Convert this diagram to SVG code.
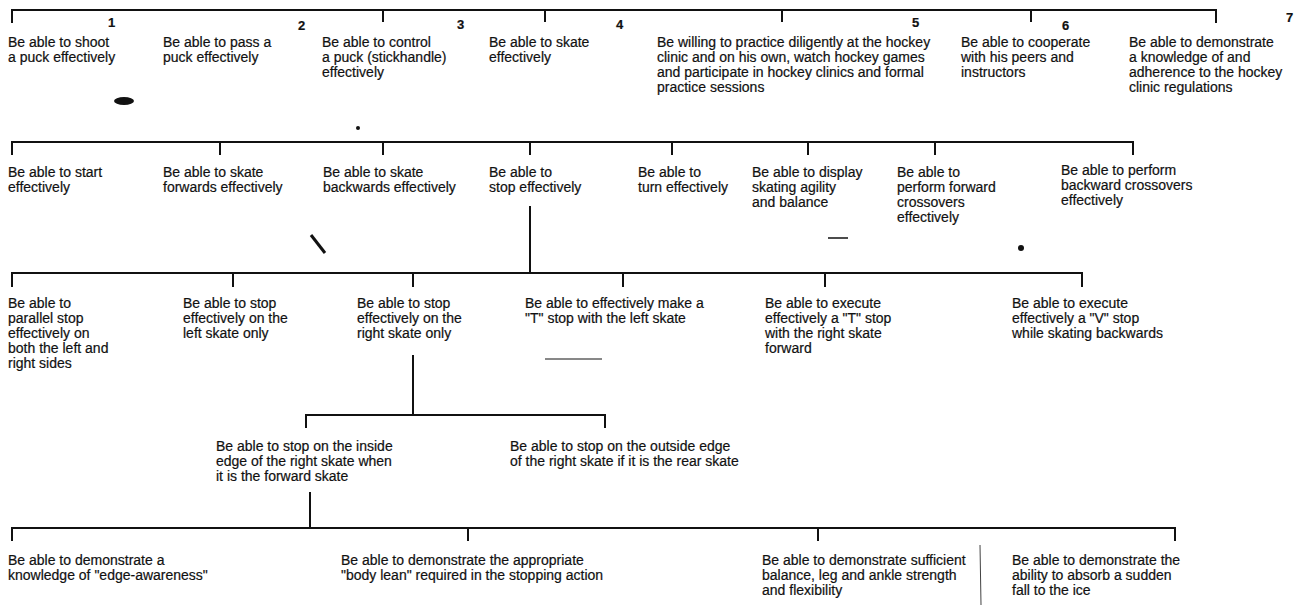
<svg xmlns="http://www.w3.org/2000/svg" width="1298" height="609" viewBox="0 0 1298 609">
<style>
text{font-family:"Liberation Sans",Arial,sans-serif;font-size:14px;fill:#111;stroke:#111;stroke-width:0.2}
.num{font-size:13px;font-weight:bold}
.c line{stroke:#111;stroke-width:2;fill:none}
.spk{fill:#111}
</style>
<rect width="1298" height="609" fill="#fff"/>
<g id="connectors" class="c">
<line x1="12" y1="10" x2="1216" y2="10"/>
<line x1="12" y1="9" x2="12" y2="23"/>
<line x1="383" y1="10" x2="383" y2="22"/>
<line x1="545" y1="10" x2="545" y2="22"/>
<line x1="782" y1="10" x2="782" y2="22"/>
<line x1="1031" y1="10" x2="1031" y2="22"/>
<line x1="1216" y1="9" x2="1216" y2="23"/>
<line x1="12" y1="142" x2="1133" y2="142"/>
<line x1="12" y1="141" x2="12" y2="155"/>
<line x1="220" y1="142" x2="220" y2="155"/>
<line x1="383" y1="142" x2="383" y2="155"/>
<line x1="530" y1="142" x2="530" y2="155"/>
<line x1="672" y1="142" x2="672" y2="155"/>
<line x1="808" y1="142" x2="808" y2="155"/>
<line x1="935" y1="142" x2="935" y2="155"/>
<line x1="1133" y1="141" x2="1133" y2="155"/>
<line x1="530" y1="206" x2="530" y2="273"/>
<line x1="12" y1="273" x2="1082" y2="273"/>
<line x1="12" y1="272" x2="12" y2="287"/>
<line x1="233" y1="273" x2="233" y2="287"/>
<line x1="413" y1="273" x2="413" y2="287"/>
<line x1="623" y1="273" x2="623" y2="287"/>
<line x1="825" y1="273" x2="825" y2="287"/>
<line x1="1082" y1="272" x2="1082" y2="287"/>
<line x1="413" y1="355" x2="413" y2="415"/>
<line x1="306" y1="415" x2="605" y2="415"/>
<line x1="306" y1="414" x2="306" y2="428"/>
<line x1="605" y1="414" x2="605" y2="428"/>
<line x1="310" y1="492" x2="310" y2="528"/>
<line x1="12" y1="528" x2="1175" y2="528"/>
<line x1="12" y1="527" x2="12" y2="541"/>
<line x1="468" y1="528" x2="468" y2="541"/>
<line x1="818" y1="528" x2="818" y2="541"/>
<line x1="1175" y1="527" x2="1175" y2="541"/>
<line x1="980" y1="545" x2="981" y2="605" style="stroke-width:0.8"/>
</g>
<g id="specks">
<ellipse class="spk" cx="124" cy="101" rx="10" ry="4"/>
<line x1="311" y1="235" x2="325" y2="253" style="stroke:#111;stroke-width:3"/>
<line x1="828" y1="238" x2="848" y2="238" style="stroke:#111;stroke-width:1.5"/>
<line x1="545" y1="359" x2="602" y2="359" style="stroke:#111;stroke-width:1"/>
<circle class="spk" cx="1021" cy="248" r="3"/>
<circle class="spk" cx="358" cy="128" r="2"/>
</g>
<g id="numbers">
<text class="num" x="108" y="27">1</text>
<text class="num" x="298" y="30">2</text>
<text class="num" x="457" y="29">3</text>
<text class="num" x="616" y="29">4</text>
<text class="num" x="912" y="27">5</text>
<text class="num" x="1062" y="30">6</text>
<text class="num" x="1286" y="22">7</text>
</g>
<g id="n1"><text x="8" y="47">Be able to shoot</text><text x="8" y="62">a puck effectively</text></g>
<g id="n2"><text x="163" y="47">Be able to pass a</text><text x="163" y="62">puck effectively</text></g>
<g id="n3"><text x="322" y="47">Be able to control</text><text x="322" y="62">a puck (stickhandle)</text><text x="322" y="77">effectively</text></g>
<g id="n4"><text x="489" y="47">Be able to skate</text><text x="489" y="62">effectively</text></g>
<g id="n5"><text x="657" y="47">Be willing to practice diligently at the hockey</text><text x="657" y="62">clinic and on his own, watch hockey games</text><text x="657" y="77">and participate in hockey clinics and formal</text><text x="657" y="92">practice sessions</text></g>
<g id="n6"><text x="961" y="47">Be able to cooperate</text><text x="961" y="62">with his peers and</text><text x="961" y="77">instructors</text></g>
<g id="n7"><text x="1129" y="47">Be able to demonstrate</text><text x="1129" y="62">a knowledge of and</text><text x="1129" y="77">adherence to the hockey</text><text x="1129" y="92">clinic regulations</text></g>
<g id="s1"><text x="8" y="177">Be able to start</text><text x="8" y="192">effectively</text></g>
<g id="s2"><text x="163" y="177">Be able to skate</text><text x="163" y="192">forwards effectively</text></g>
<g id="s3"><text x="323" y="177">Be able to skate</text><text x="323" y="192">backwards effectively</text></g>
<g id="s4"><text x="489" y="177">Be able to</text><text x="489" y="192">stop effectively</text></g>
<g id="s5"><text x="638" y="177">Be able to</text><text x="638" y="192">turn effectively</text></g>
<g id="s6"><text x="752" y="177">Be able to display</text><text x="752" y="192">skating agility</text><text x="752" y="207">and balance</text></g>
<g id="s7"><text x="897" y="177">Be able to</text><text x="897" y="192">perform forward</text><text x="897" y="207">crossovers</text><text x="897" y="222">effectively</text></g>
<g id="s8"><text x="1061" y="175">Be able to perform</text><text x="1061" y="190">backward crossovers</text><text x="1061" y="205">effectively</text></g>
<g id="t1"><text x="8" y="308">Be able to</text><text x="8" y="323">parallel stop</text><text x="8" y="338">effectively on</text><text x="8" y="353">both the left and</text><text x="8" y="368">right sides</text></g>
<g id="t2"><text x="183" y="308">Be able to stop</text><text x="183" y="323">effectively on the</text><text x="183" y="338">left skate only</text></g>
<g id="t3"><text x="357" y="308">Be able to stop</text><text x="357" y="323">effectively on the</text><text x="357" y="338">right skate only</text></g>
<g id="t4"><text x="525" y="308">Be able to effectively make a</text><text x="525" y="323">"T" stop with the left skate</text></g>
<g id="t5"><text x="765" y="308">Be able to execute</text><text x="765" y="323">effectively a "T" stop</text><text x="765" y="338">with the right skate</text><text x="765" y="353">forward</text></g>
<g id="t6"><text x="1012" y="308">Be able to execute</text><text x="1012" y="323">effectively a "V" stop</text><text x="1012" y="338">while skating backwards</text></g>
<g id="u1"><text x="216" y="451">Be able to stop on the inside</text><text x="216" y="466">edge of the right skate when</text><text x="216" y="481">it is the forward skate</text></g>
<g id="u2"><text x="510" y="451">Be able to stop on the outside edge</text><text x="510" y="466">of the right skate if it is the rear skate</text></g>
<g id="v1"><text x="8" y="565">Be able to demonstrate a</text><text x="8" y="580">knowledge of "edge-awareness"</text></g>
<g id="v2"><text x="341" y="565">Be able to demonstrate the appropriate</text><text x="341" y="580">"body lean" required in the stopping action</text></g>
<g id="v3"><text x="762" y="565">Be able to demonstrate sufficient</text><text x="762" y="580">balance, leg and ankle strength</text><text x="762" y="595">and flexibility</text></g>
<g id="v4"><text x="1012" y="565">Be able to demonstrate the</text><text x="1012" y="580">ability to absorb a sudden</text><text x="1012" y="595">fall to the ice</text></g>
</svg>
